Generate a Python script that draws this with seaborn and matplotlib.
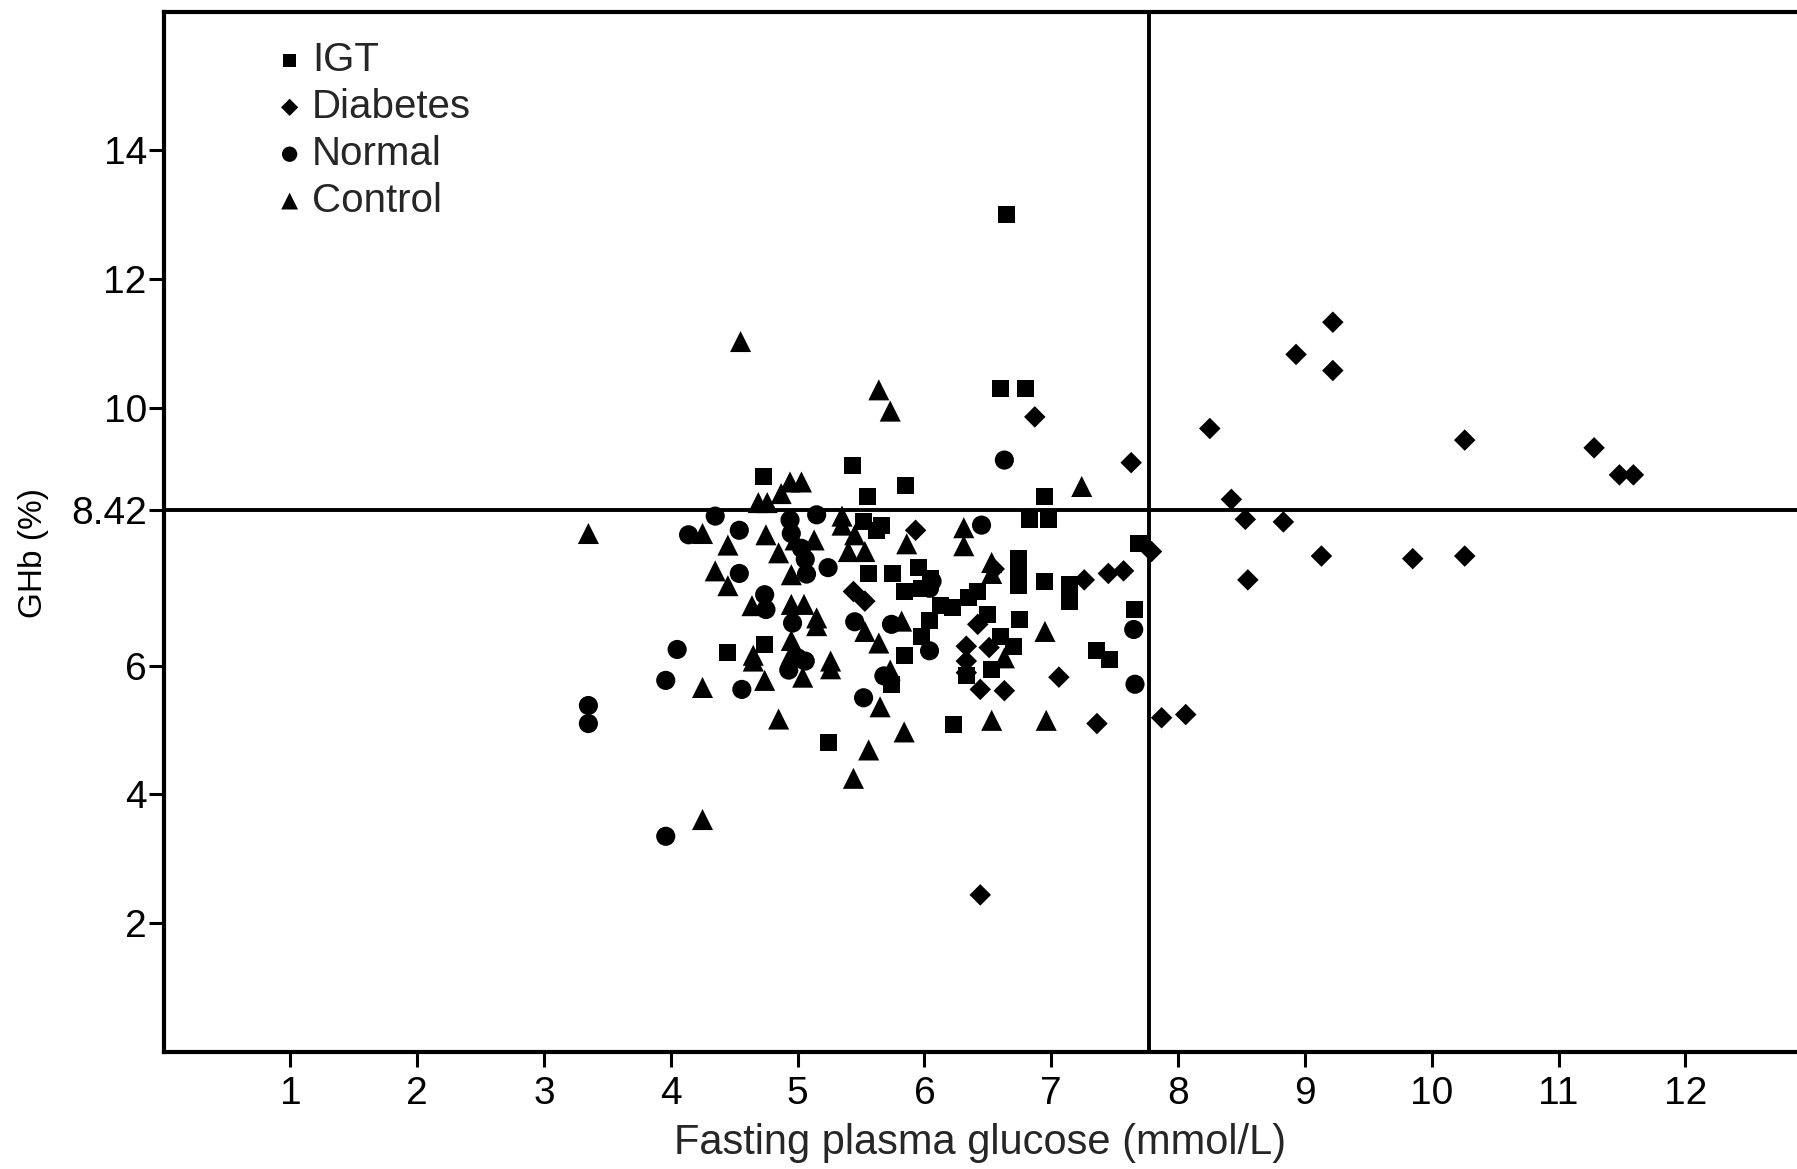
import numpy as np
import pandas as pd
import matplotlib
matplotlib.use("Agg")
import matplotlib.pyplot as plt
import seaborn as sns

# --- data ---
igt_x = [6.65, 6.6, 6.8, 4.73, 5.43, 5.85, 5.55, 6.95, 6.83, 6.98, 5.52, 5.66,
         5.56, 5.75, 5.95, 5.98, 5.84, 6.13, 6.42, 6.74, 6.74, 6.74, 6.95, 7.14,
         7.14, 7.69, 7.66, 7.36, 7.46, 5.24, 4.45, 4.74, 5.84, 5.74, 6.23, 6.33,
         6.53, 6.6, 6.75, 6.7, 6.22, 6.04, 5.98, 6.05, 6.35, 6.5, 5.62]
igt_y = [13.0, 10.3, 10.3, 8.94, 9.1, 8.8, 8.62, 8.63, 8.26, 8.26, 8.23, 8.18,
         7.43, 7.43, 7.52, 7.2, 7.15, 6.94, 7.15, 7.66, 7.45, 7.25, 7.31, 7.26,
         7.0, 7.9, 6.87, 6.23, 6.1, 4.81, 6.21, 6.32, 6.16, 5.71, 5.09, 5.84,
         5.94, 6.45, 6.72, 6.3, 6.9, 6.7, 6.45, 7.35, 7.05, 6.8, 8.1]

diab_x = [9.22, 8.93, 9.22, 6.87, 8.25, 10.26, 11.28, 11.48, 11.59, 7.63, 8.42,
          8.53, 8.83, 7.79, 9.13, 9.85, 10.26, 8.55, 7.26, 7.45, 7.57, 7.06,
          7.36, 7.87, 8.06, 6.44, 6.44, 6.63, 6.33, 6.51, 6.33, 6.33, 5.93,
          5.44, 5.53, 6.42, 6.55]
diab_y = [11.33, 10.83, 10.58, 9.86, 9.68, 9.5, 9.38, 8.96, 8.96, 9.15, 8.58,
          8.27, 8.23, 7.77, 7.7, 7.66, 7.7, 7.33, 7.33, 7.43, 7.47, 5.82,
          5.1, 5.19, 5.24, 2.44, 5.63, 5.61, 6.3, 6.28, 6.07, 5.89, 8.1,
          7.15, 7.0, 6.64, 7.5]

norm_x = [3.35, 3.35, 3.96, 3.96, 4.05, 4.56, 4.35, 4.14, 4.54, 4.54, 4.94,
          5.15, 4.95, 5.03, 5.06, 5.07, 5.24, 4.74, 4.75, 4.96, 5.45, 5.0,
          5.06, 4.93, 5.52, 5.68, 6.04, 6.06, 6.45, 6.63, 7.65, 7.66, 5.74,
          6.04]
norm_y = [5.38, 5.1, 5.77, 3.35, 6.25, 5.63, 8.32, 8.03, 8.1, 7.43, 8.26,
          8.34, 8.05, 7.82, 7.65, 7.42, 7.52, 7.1, 6.87, 6.66, 6.68, 6.12,
          6.07, 5.93, 5.5, 5.84, 6.23, 7.31, 8.18, 9.19, 6.56, 5.71, 6.64,
          7.2]

ctrl_x = [3.35, 4.55, 5.64, 5.73, 7.24, 4.69, 4.76, 4.94, 5.03, 4.87, 4.25,
          4.45, 4.75, 4.85, 4.35, 4.45, 4.64, 4.95, 5.05, 5.15, 5.15, 5.35,
          5.35, 5.4, 4.98, 5.13, 4.95, 5.45, 4.25, 4.74, 4.85, 4.25, 5.44,
          4.65, 4.65, 4.95, 4.95, 5.04, 5.26, 5.26, 5.53, 5.64, 5.73, 5.65,
          5.84, 5.56, 6.53, 6.95, 6.96, 6.31, 6.31, 5.86, 5.53, 6.53, 6.53,
          5.82, 6.63]
ctrl_y = [8.05, 11.03, 10.28, 9.95, 8.78, 8.53, 8.53, 8.85, 8.85, 8.67, 8.05,
          7.87, 8.03, 7.75, 7.47, 7.24, 6.93, 6.95, 6.95, 6.74, 6.62, 8.32,
          8.18, 7.77, 7.95, 7.95, 7.41, 8.03, 5.66, 5.77, 5.17, 3.61, 4.25,
          6.07, 6.16, 6.39, 6.18, 5.82, 6.07, 5.95, 6.53, 6.35, 5.93, 5.36,
          4.97, 4.69, 5.15, 6.53, 5.15, 8.14, 7.86, 7.89, 7.77, 7.6, 7.43,
          6.69, 6.12]

groups = ["IGT", "Diabetes", "Normal", "Control"]
markers = {"IGT": "s", "Diabetes": "D", "Normal": "o", "Control": "^"}
sizes = {"IGT": 150, "Diabetes": 120, "Normal": 190, "Control": 230}

df = pd.concat([
    pd.DataFrame({"fpg": igt_x, "ghb": igt_y, "group": "IGT"}),
    pd.DataFrame({"fpg": diab_x, "ghb": diab_y, "group": "Diabetes"}),
    pd.DataFrame({"fpg": norm_x, "ghb": norm_y, "group": "Normal"}),
    pd.DataFrame({"fpg": ctrl_x, "ghb": ctrl_y, "group": "Control"}),
], ignore_index=True)

ghb_cut = 8.42
fpg_cut = 7.77

sns.set_style("white")
plt.rcParams["font.family"] = ["Liberation Sans", "DejaVu Sans"]

fig = plt.figure(figsize=(17.97, 11.69), dpi=100)
ax = fig.add_axes([0.091, 0.10, 0.909, 0.89])

for g in groups:
    sub = df[df["group"] == g]
    sns.scatterplot(data=sub, x="fpg", y="ghb", marker=markers[g], s=sizes[g],
                    color="black", edgecolor="none", linewidth=0, label=g, ax=ax)

ax.axhline(ghb_cut, color="black", lw=2.8, zorder=0)
ax.axvline(fpg_cut, color="black", lw=2.8, zorder=0)

ax.set_xlim(0, 12.88)
ax.set_ylim(0, 16.15)
ax.set_xticks(range(1, 13))
ax.set_yticks([2, 4, 6, ghb_cut, 10, 12, 14])
ax.set_yticklabels(["2", "4", "6", "8.42", "10", "12", "14"])
ax.tick_params(axis="both", direction="out", length=11, width=2.2, labelsize=28,
               color="black", labelcolor="black", left=True, bottom=True)
ax.tick_params(axis="x", pad=6)
ax.tick_params(axis="y", pad=1)

for side in ["left", "bottom", "top"]:
    ax.spines[side].set_linewidth(3)
    ax.spines[side].set_color("black")
ax.spines["right"].set_visible(False)

ax.set_xlabel("Fasting plasma glucose (mmol/L)", fontsize=30, labelpad=8)
ax.set_ylabel("GHb (%)", fontsize=24, color="black")
ax.yaxis.set_label_coords(-0.07, 0.48)

h, l = ax.get_legend_handles_labels()
ax.legend(h, l, loc="upper left", bbox_to_anchor=(0.055, 0.995), frameon=False,
          fontsize=29, markerscale=0.8, handlelength=0.6, handletextpad=0.25,
          labelspacing=0.22, borderaxespad=0.2)

fig.savefig("out.png", dpi=100)
